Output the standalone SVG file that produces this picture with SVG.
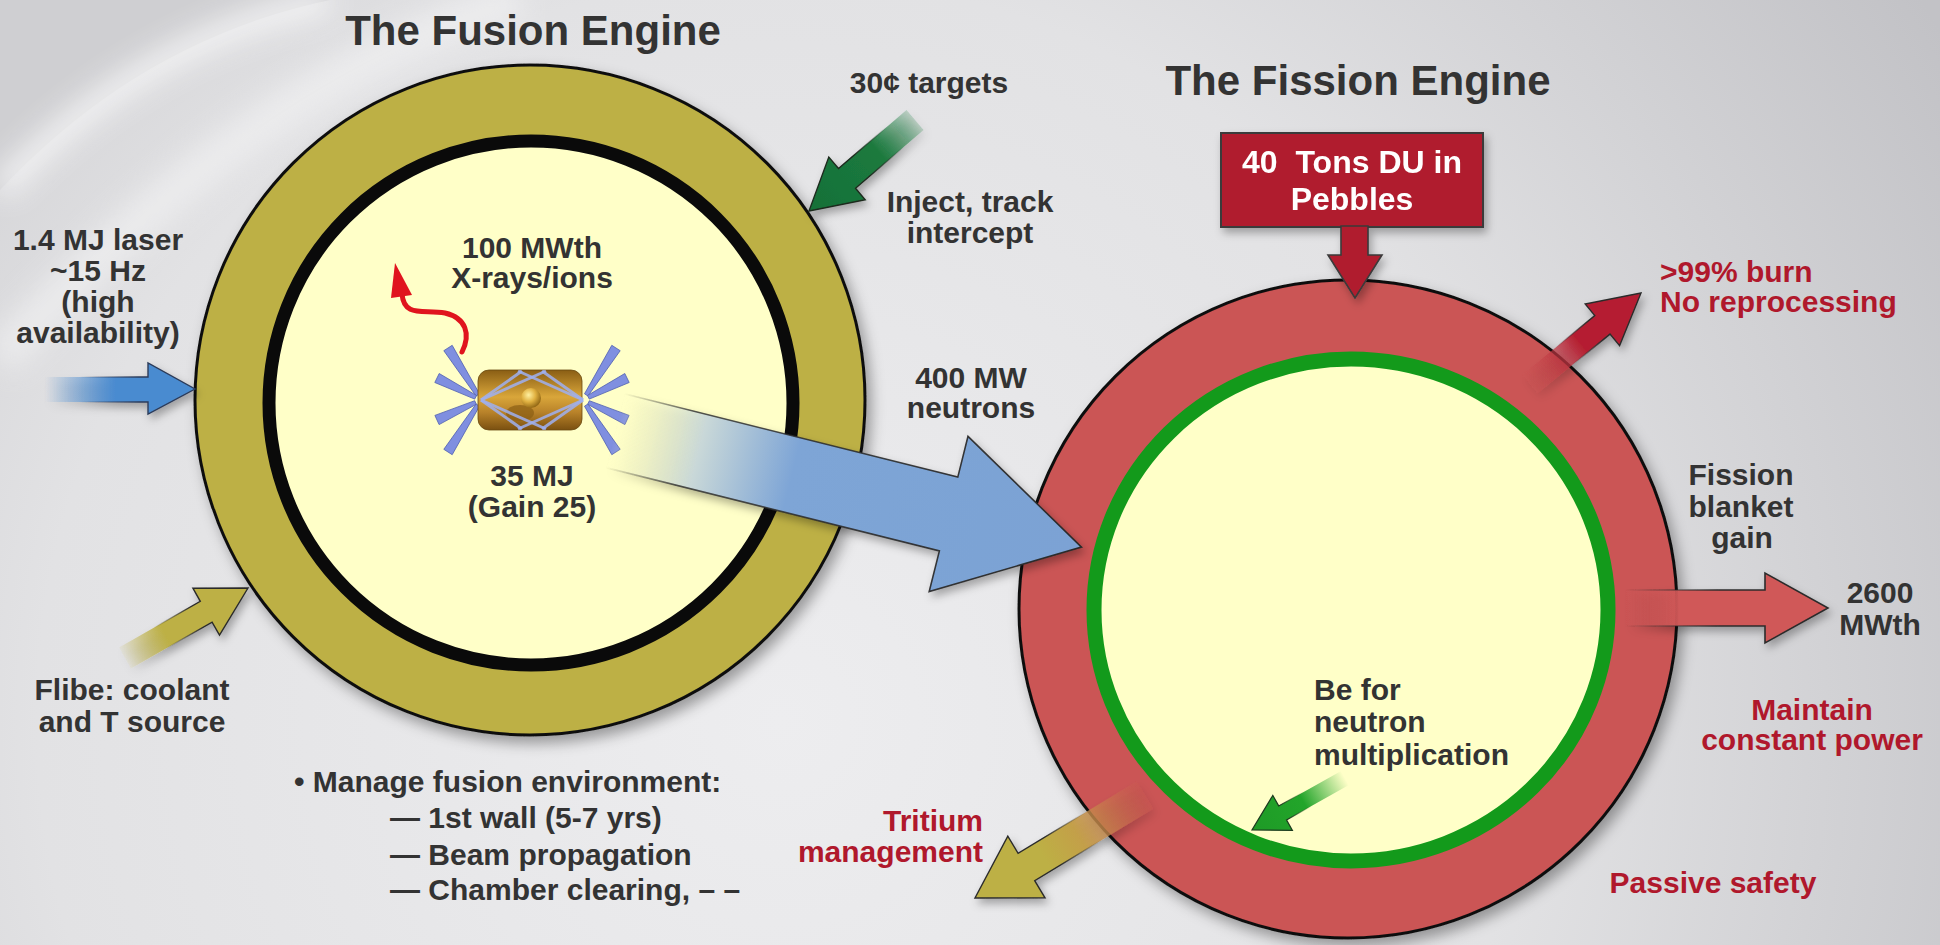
<svg xmlns="http://www.w3.org/2000/svg" width="1940" height="945" viewBox="0 0 1940 945">
  <defs>
    <style>
      .t { font-family: "Liberation Sans", Arial, sans-serif; font-weight: bold; }
      .title { font-size: 42px; fill: #333333; }
      .lbl { font-size: 30px; fill: #333333; }
      .red { font-size: 30px; fill: #B0182C; }
      .box { font-size: 32px; fill: #FFFFFF; }
      .mid { text-anchor: middle; }
      .end { text-anchor: end; }
      .beam { fill: #7F8FE0; stroke: #4F5FB0; stroke-width: 0.8; }
      .ray { stroke: #9FB0F0; stroke-width: 3; opacity: 0.85; }
    </style>

    <radialGradient id="bg" cx="780" cy="720" r="1350" gradientUnits="userSpaceOnUse">
      <stop offset="0" stop-color="#EDEDEF"/>
      <stop offset="0.55" stop-color="#E2E2E4"/>
      <stop offset="1" stop-color="#C2C2C6"/>
    </radialGradient>

    <filter id="shadow" x="-20%" y="-20%" width="140%" height="140%">
      <feDropShadow dx="5" dy="7" stdDeviation="7" flood-color="#000000" flood-opacity="0.35"/>
    </filter>
    <filter id="softShadow" x="-30%" y="-30%" width="160%" height="160%">
      <feDropShadow dx="3" dy="5" stdDeviation="4" flood-color="#000000" flood-opacity="0.3"/>
    </filter>
    <filter id="haze" x="-20%" y="-20%" width="140%" height="140%">
      <feGaussianBlur stdDeviation="14"/>
    </filter>

    <!-- arrow fills and fading outlines -->
    <linearGradient id="laserFill" x1="45" y1="0" x2="115" y2="0" gradientUnits="userSpaceOnUse">
      <stop offset="0" stop-color="#4A8BD0" stop-opacity="0"/>
      <stop offset="1" stop-color="#4A8BD0"/>
    </linearGradient>
    <linearGradient id="laserEdge" x1="80" y1="0" x2="140" y2="0" gradientUnits="userSpaceOnUse">
      <stop offset="0" stop-color="#2B3B5A" stop-opacity="0"/>
      <stop offset="1" stop-color="#2B3B5A"/>
    </linearGradient>
    <linearGradient id="neutronFill" x1="615" y1="431" x2="1081" y2="547" gradientUnits="userSpaceOnUse">
      <stop offset="0" stop-color="#FFFFC8" stop-opacity="0"/>
      <stop offset="0.18" stop-color="#C9D8D8"/>
      <stop offset="0.38" stop-color="#7EA5D6"/>
      <stop offset="1" stop-color="#7BA2D4"/>
    </linearGradient>
    <linearGradient id="neutronEdge" x1="615" y1="431" x2="1081" y2="547" gradientUnits="userSpaceOnUse">
      <stop offset="0" stop-color="#2B2B2B" stop-opacity="0"/>
      <stop offset="0.15" stop-color="#2B2B2B" stop-opacity="0.8"/>
      <stop offset="1" stop-color="#2B2B2B"/>
    </linearGradient>
    <linearGradient id="targetFill" x1="925" y1="112" x2="809" y2="211" gradientUnits="userSpaceOnUse">
      <stop offset="0" stop-color="#1B7A3E" stop-opacity="0"/>
      <stop offset="0.4" stop-color="#1B7A3E"/>
      <stop offset="1" stop-color="#167038"/>
    </linearGradient>
    <linearGradient id="targetEdge" x1="925" y1="112" x2="809" y2="211" gradientUnits="userSpaceOnUse">
      <stop offset="0.25" stop-color="#1C2A1E" stop-opacity="0"/>
      <stop offset="0.55" stop-color="#1C2A1E"/>
    </linearGradient>
    <linearGradient id="flibeFill" x1="122" y1="660" x2="248" y2="588" gradientUnits="userSpaceOnUse">
      <stop offset="0" stop-color="#BDB044" stop-opacity="0"/>
      <stop offset="0.35" stop-color="#BDB044"/>
      <stop offset="1" stop-color="#BDB044"/>
    </linearGradient>
    <linearGradient id="flibeEdge" x1="122" y1="660" x2="248" y2="588" gradientUnits="userSpaceOnUse">
      <stop offset="0.3" stop-color="#2B2B2B" stop-opacity="0"/>
      <stop offset="0.6" stop-color="#2B2B2B"/>
    </linearGradient>
    <linearGradient id="burnFill" x1="1530" y1="384" x2="1641" y2="293" gradientUnits="userSpaceOnUse">
      <stop offset="0" stop-color="#CB5454" stop-opacity="0.2"/>
      <stop offset="0.45" stop-color="#B51F32"/>
      <stop offset="1" stop-color="#B51F32"/>
    </linearGradient>
    <linearGradient id="burnEdge" x1="1530" y1="384" x2="1641" y2="293" gradientUnits="userSpaceOnUse">
      <stop offset="0.3" stop-color="#2B2B2B" stop-opacity="0"/>
      <stop offset="0.6" stop-color="#2B2B2B"/>
    </linearGradient>
    <linearGradient id="powerFill" x1="1625" y1="0" x2="1680" y2="0" gradientUnits="userSpaceOnUse">
      <stop offset="0" stop-color="#CB5454" stop-opacity="0"/>
      <stop offset="1" stop-color="#D05858"/>
    </linearGradient>
    <linearGradient id="powerEdge" x1="1625" y1="0" x2="1720" y2="0" gradientUnits="userSpaceOnUse">
      <stop offset="0" stop-color="#2B2B2B" stop-opacity="0"/>
      <stop offset="1" stop-color="#2B2B2B"/>
    </linearGradient>
    <linearGradient id="tritiumFill" x1="1145" y1="795" x2="975" y2="898" gradientUnits="userSpaceOnUse">
      <stop offset="0" stop-color="#C95A50" stop-opacity="0.3"/>
      <stop offset="0.4" stop-color="#C3A048"/>
      <stop offset="0.6" stop-color="#BDB044"/>
      <stop offset="1" stop-color="#BDB044"/>
    </linearGradient>
    <linearGradient id="tritiumEdge" x1="1145" y1="795" x2="975" y2="898" gradientUnits="userSpaceOnUse">
      <stop offset="0.3" stop-color="#2B2B2B" stop-opacity="0"/>
      <stop offset="0.55" stop-color="#2B2B2B"/>
    </linearGradient>
    <linearGradient id="beFill" x1="1345" y1="778" x2="1252" y2="830" gradientUnits="userSpaceOnUse">
      <stop offset="0" stop-color="#22A52A" stop-opacity="0"/>
      <stop offset="0.45" stop-color="#22A52A"/>
      <stop offset="1" stop-color="#1E9A26"/>
    </linearGradient>
    <linearGradient id="beEdge" x1="1345" y1="778" x2="1252" y2="830" gradientUnits="userSpaceOnUse">
      <stop offset="0.4" stop-color="#1C3A1E" stop-opacity="0"/>
      <stop offset="0.65" stop-color="#1C3A1E"/>
    </linearGradient>

    <!-- target capsule -->
    <linearGradient id="gold" x1="0" y1="0" x2="0" y2="1">
      <stop offset="0" stop-color="#8A5E14"/>
      <stop offset="0.45" stop-color="#D9A63A"/>
      <stop offset="0.7" stop-color="#B9832A"/>
      <stop offset="1" stop-color="#7A5010"/>
    </linearGradient>
    <radialGradient id="pellet" cx="0.38" cy="0.35" r="0.7">
      <stop offset="0" stop-color="#FFF0A0"/>
      <stop offset="0.5" stop-color="#E0B040"/>
      <stop offset="1" stop-color="#8A6010"/>
    </radialGradient>

    <!-- one fan of four laser beams, converging on the left entrance hole -->
    <g id="beam-fan">
      <polygon class="beam" points="479.5,393.8 452.2,345.3 443.8,350.7 476.1,396"/>
      <polygon class="beam" points="476.5,395.5 439.2,373.5 434.8,382.5 474.7,399.1"/>
      <polygon class="beam" points="476.3,404.3 439.1,424.6 434.9,415.4 474.7,400.7"/>
      <polygon class="beam" points="479.5,406.2 452.2,454.7 443.8,449.3 476.1,404"/>
    </g>
  </defs>

  <!-- backdrop -->
  <rect x="0" y="0" width="1940" height="945" fill="url(#bg)"/>
  <path d="M 0 0 L 330 0 Q 140 40 0 190 Z" fill="#CFCFD2"/>
  <path d="M 330 0 Q 140 40 0 190" fill="none" stroke="#F7F7F8" stroke-width="26" opacity="0.85" filter="url(#haze)"/>
  <path d="M 520 0 Q 250 80 0 360" fill="none" stroke="#F4F4F5" stroke-width="40" opacity="0.6" filter="url(#haze)"/>

  <!-- fusion chamber -->
  <g id="fusion-engine">
    <circle cx="530" cy="400" r="335" fill="#BDB044" stroke="#111111" stroke-width="3" filter="url(#shadow)"/>
    <circle cx="531" cy="403" r="262" fill="#FFFFC8" stroke="#0A0A0A" stroke-width="13"/>
  </g>

  <!-- fission blanket -->
  <g id="fission-engine">
    <circle cx="1348" cy="609" r="329" fill="#CB5454" stroke="#111111" stroke-width="3" filter="url(#shadow)"/>
    <ellipse cx="1351" cy="610" rx="257" ry="251" fill="#FFFFC8" stroke="#139A1B" stroke-width="15"/>
  </g>

  <!-- hohlraum with laser beams -->
  <g id="target-capsule">
    <use href="#beam-fan"/>
    <use href="#beam-fan" transform="matrix(-1 0 0 1 1064 0)"/>
    <rect x="478" y="370" width="104" height="60" rx="11" fill="url(#gold)" stroke="#6A4A10" stroke-width="0.8"/>
    <ellipse cx="520" cy="413" rx="14" ry="8" fill="#8A5E14" opacity="0.7"/>
    <g id="beams-inner">
      <line class="ray" x1="481" y1="400" x2="522" y2="371"/>
      <line class="ray" x1="481" y1="400" x2="546" y2="371"/>
      <line class="ray" x1="481" y1="400" x2="522" y2="429"/>
      <line class="ray" x1="481" y1="400" x2="546" y2="429"/>
      <line class="ray" x1="583" y1="400" x2="542" y2="371"/>
      <line class="ray" x1="583" y1="400" x2="518" y2="371"/>
      <line class="ray" x1="583" y1="400" x2="542" y2="429"/>
      <line class="ray" x1="583" y1="400" x2="518" y2="429"/>
    </g>
    <circle cx="531" cy="398" r="10" fill="url(#pellet)"/>
  </g>

  <!-- fuel feed box -->
  <g id="fuel-box" filter="url(#softShadow)">
    <rect x="1221" y="133" width="262" height="94" fill="#B01E2E" stroke="#3A3A3A" stroke-width="2"/>
    <polygon points="1341,226 1368,226 1368,255 1382,255 1355,298 1328,255 1341,255" fill="#B01E2E" stroke="#3A3A3A" stroke-width="1.6"/>
    <text class="t box mid" x="1352" y="173" xml:space="preserve">40  Tons DU in</text>
    <text class="t box mid" x="1352" y="210">Pebbles</text>
  </g>

  <!-- flows in and out -->
  <g id="connectors">
    <polygon id="laser-in" points="45,377 148,377 148,363 195,389 148,414 148,402 45,402" fill="url(#laserFill)" stroke="url(#laserEdge)" stroke-width="1.4" filter="url(#softShadow)"/>
    <polygon id="targets-in" points="906.5,110.1 838.5,168.5 828.8,157.1 809,211 865.2,199.7 855.5,188.3 923.5,129.9" fill="url(#targetFill)" stroke="url(#targetEdge)" stroke-width="1.4" filter="url(#softShadow)"/>
    <polygon id="flibe-in" points="119.1,647.6 200.3,601.3 192.9,588.2 248,588 219.5,635.2 212.1,622.1 130.9,668.4" fill="url(#flibeFill)" stroke="url(#flibeEdge)" stroke-width="1.4" filter="url(#softShadow)"/>
    <polygon id="neutrons" points="624.1,393.8 957.8,477.1 968,436.4 1081.5,547.1 929.2,591.6 939.4,550.9 605.7,467.6" fill="url(#neutronFill)" stroke="url(#neutronEdge)" stroke-width="1.6" filter="url(#softShadow)"/>
    <g id="xray-out">
      <path d="M 462 352 C 471 334, 466 318, 445 313 C 424 309, 404 318, 402 294" fill="none" stroke="#E0141E" stroke-width="5" stroke-linecap="round"/>
      <polygon points="395,263 412,295 391,298" fill="#E0141E"/>
    </g>
    <polygon id="burn-out" points="1522.4,374.8 1594.8,315.6 1585.2,304 1641,293 1619.6,345.6 1610,334.1 1537.6,393.3" fill="url(#burnFill)" stroke="url(#burnEdge)" stroke-width="1.4" filter="url(#softShadow)"/>
    <polygon id="power-out" points="1625,590 1765,590 1765,573 1828,608 1765,643 1765,626 1625,626" fill="url(#powerFill)" stroke="url(#powerEdge)" stroke-width="1.6" filter="url(#softShadow)"/>
    <polygon id="tritium-out" points="1136.7,781.3 1018.1,853.3 1007.8,836.2 975,898 1045,897.8 1034.7,880.7 1153.3,808.7" fill="url(#tritiumFill)" stroke="url(#tritiumEdge)" stroke-width="1.4" filter="url(#softShadow)"/>
    <polygon id="be-in" points="1341.1,771 1278.7,805.9 1272.8,795.4 1252,830 1292.4,830.4 1286.5,819.9 1348.9,785" fill="url(#beFill)" stroke="url(#beEdge)" stroke-width="1.2"/>
  </g>

  <!-- labels -->
  <g id="titles">
    <text class="t title mid" x="533" y="45">The Fusion Engine</text>
    <text class="t title mid" x="1358" y="95">The Fission Engine</text>
  </g>

  <g id="fusion-labels">
    <text class="t lbl mid" x="929" y="93">30¢ targets</text>
    <text class="t lbl mid" x="970" y="212">Inject, track</text>
    <text class="t lbl mid" x="970" y="243">intercept</text>
    <text class="t lbl mid" x="98" y="250">1.4 MJ laser</text>
    <text class="t lbl mid" x="98" y="281">~15 Hz</text>
    <text class="t lbl mid" x="98" y="312">(high</text>
    <text class="t lbl mid" x="98" y="343">availability)</text>
    <text class="t lbl mid" x="532" y="258">100 MWth</text>
    <text class="t lbl mid" x="532" y="288">X-rays/ions</text>
    <text class="t lbl mid" x="532" y="486">35 MJ</text>
    <text class="t lbl mid" x="532" y="517">(Gain 25)</text>
    <text class="t lbl mid" x="971" y="388">400 MW</text>
    <text class="t lbl mid" x="971" y="418">neutrons</text>
    <text class="t lbl mid" x="132" y="700">Flibe: coolant</text>
    <text class="t lbl mid" x="132" y="732">and T source</text>
  </g>

  <g id="environment-list">
    <text class="t lbl" x="294" y="792">• Manage fusion environment:</text>
    <text class="t lbl" x="390" y="828">— 1st wall (5-7 yrs)</text>
    <text class="t lbl" x="390" y="865">— Beam propagation</text>
    <text class="t lbl" x="390" y="900">— Chamber clearing, – –</text>
  </g>

  <g id="fission-labels">
    <text class="t red end" x="983" y="831">Tritium</text>
    <text class="t red end" x="983" y="862">management</text>
    <text class="t lbl" x="1314" y="700">Be for</text>
    <text class="t lbl" x="1314" y="732">neutron</text>
    <text class="t lbl" x="1314" y="765">multiplication</text>
    <text class="t red" x="1660" y="282">&gt;99% burn</text>
    <text class="t red" x="1660" y="312">No reprocessing</text>
    <text class="t lbl mid" x="1741" y="485">Fission</text>
    <text class="t lbl mid" x="1741" y="517">blanket</text>
    <text class="t lbl mid" x="1742" y="548">gain</text>
    <text class="t lbl mid" x="1880" y="603">2600</text>
    <text class="t lbl mid" x="1880" y="635">MWth</text>
    <text class="t red mid" x="1812" y="720">Maintain</text>
    <text class="t red mid" x="1812" y="750">constant power</text>
    <text class="t red mid" x="1713" y="893">Passive safety</text>
  </g>
</svg>
